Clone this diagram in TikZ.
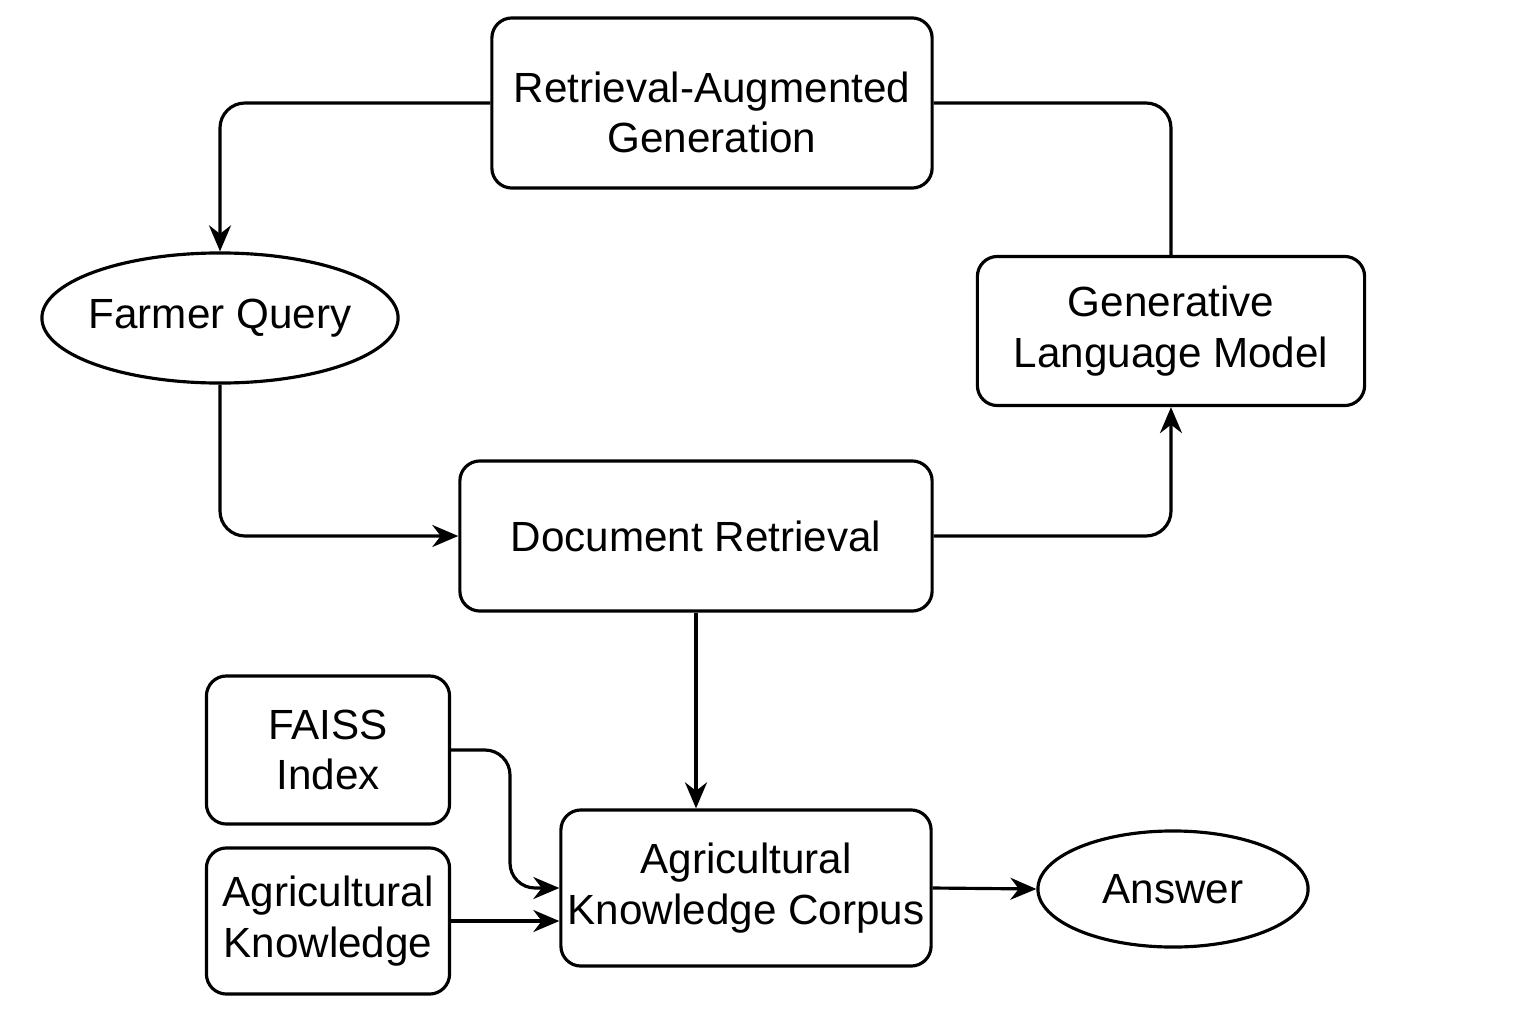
\documentclass[tikz,border=0pt]{standalone}
\usepackage{fontspec}
\setmainfont{Liberation Sans}
\usetikzlibrary{shapes.geometric}
\usetikzlibrary{arrows.meta}

\begin{document}
\begin{tikzpicture}[x=0.01cm, y=-0.01cm,
  every node/.style={font=\fontsize{12}{14.3}\selectfont, align=center},
  box/.style={draw, line width=0.9pt, rounded corners=0.2cm, inner sep=0pt},
  oval/.style={draw, ellipse, line width=0.9pt, inner sep=0pt},
  link/.style={line width=0.9pt, rounded corners=0.25cm},
  arr/.style={link, -{Stealth[length=0.26cm, width=0.22cm]}}]
\useasboundingbox (0,0) rectangle (1536,1024);
\node[box, minimum width=4.40cm, minimum height=1.70cm] (rag) at (712,103) {\rule{0pt}{0.5cm}Retrieval-Augmented\\Generation};
\node[oval, inner xsep=-0.07cm, minimum width=3.56cm, minimum height=1.30cm] (query) at (220,318) {Farmer Query};
\node[box, minimum width=3.87cm, minimum height=1.49cm] (glm) at (1171,331) {Generative\\Language Model};
\node[box, minimum width=4.72cm, minimum height=1.50cm] (docret) at (696,536) {Document Retrieval};
\node[box, minimum width=2.43cm, minimum height=1.48cm] (faiss) at (328,750) {FAISS\\Index};
\node[box, minimum width=2.43cm, minimum height=1.46cm] (agrik) at (328,921) {Agricultural\\Knowledge};
\node[box, minimum width=3.70cm, minimum height=1.56cm] (corpus) at (746,888) {Agricultural\\Knowledge Corpus};
\node[oval, minimum width=2.70cm, minimum height=1.16cm] (answer) at (1173,889) {Answer};
\coordinate (bend) at (510,820);
\draw[arr] (rag.west) -| (query.north);
\draw[link] (rag.east) -| (glm.north);
\draw[arr] (query.south) |- (docret.west);
\draw[arr] (docret.east) -| (glm.south);
\draw[arr] (docret.south) -- (docret.south |- corpus.north);
\draw[arr] (faiss.east) -| (bend) |- (corpus.west);
\draw[arr] (agrik.east) -- (agrik.east -| corpus.west);
\draw[arr] (corpus.east) -- (answer.west);
\end{tikzpicture}
\end{document}
